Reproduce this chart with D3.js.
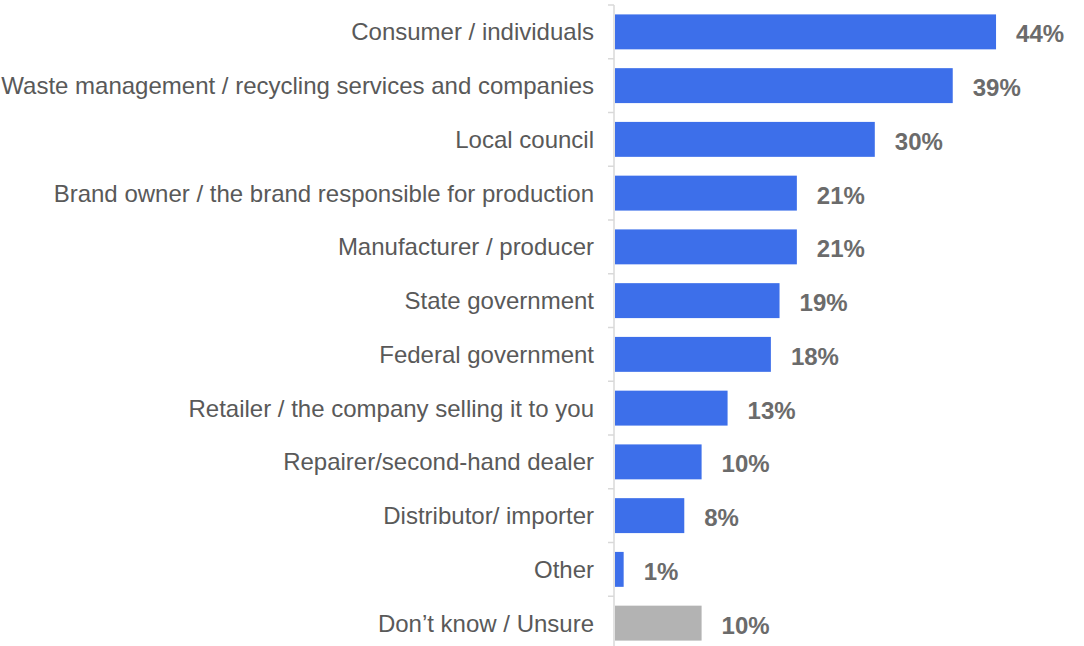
<!DOCTYPE html>
<html>
<head>
<meta charset="utf-8">
<script src="https://cdn.jsdelivr.net/npm/d3@7"></script>
<style>
  html, body { margin: 0; padding: 0; background: #ffffff; }
  svg { display: block; }
</style>
</head>
<body>
<svg id="chart" width="1084" height="646"></svg>
<script>
// Who is responsible — share of respondents (%)
const categories = [
  "Consumer / individuals",
  "Waste management / recycling services and companies",
  "Local council",
  "Brand owner / the brand responsible for production",
  "Manufacturer / producer",
  "State government",
  "Federal government",
  "Retailer / the company selling it to you",
  "Repairer/second-hand dealer",
  "Distributor/ importer",
  "Other",
  "Don\u2019t know / Unsure"
];
const values = [44, 39, 30, 21, 21, 19, 18, 13, 10, 8, 1, 10];
const valueLabels = ["44%", "39%", "30%", "21%", "21%", "19%", "18%", "13%", "10%", "8%", "1%", "10%"];
const neutralCategories = ["Don\u2019t know / Unsure"];

const svg = d3.select("#chart");
const W = 1084, H = 646;

const axisX = 614;
const x = d3.scaleLinear().domain([0, 50]).range([615, 1048]);
const y = d3.scaleBand()
  .domain(categories)
  .range([5, 650])
  .paddingInner(0.35)
  .paddingOuter(0.175);

const step = y.step();

// vertical axis line with tick marks at band boundaries
const g = svg.append("g");
g.append("line")
  .attr("x1", axisX).attr("x2", axisX)
  .attr("y1", 5).attr("y2", H)
  .attr("stroke", "#d9d9d9").attr("stroke-width", 1.5);

g.selectAll("line.tick")
  .data(categories)
  .join("line")
  .attr("class", "tick")
  .attr("x1", axisX - 6).attr("x2", axisX)
  .attr("y1", d => y(d) - step * y.paddingInner() / 2)
  .attr("y2", d => y(d) - step * y.paddingInner() / 2)
  .attr("stroke", "#d9d9d9").attr("stroke-width", 1.5);

// bars
svg.selectAll("rect.bar")
  .data(categories)
  .join("rect")
  .attr("class", "bar")
  .attr("x", x(0))
  .attr("y", d => y(d))
  .attr("width", (d, i) => x(values[i]) - x(0))
  .attr("height", y.bandwidth())
  .attr("fill", d => neutralCategories.includes(d) ? "#b3b3b3" : "#3d6fea");

// category labels
svg.selectAll("text.cat")
  .data(categories)
  .join("text")
  .attr("class", "cat")
  .attr("x", 594)
  .attr("y", d => y(d) + y.bandwidth() / 2)
  .attr("dy", "0.35em")
  .attr("text-anchor", "end")
  .attr("font-family", "'Liberation Sans', Arial, sans-serif")
  .attr("font-size", 24)
  .attr("fill", "#595959")
  .text(d => d);

// value labels
svg.selectAll("text.val")
  .data(categories)
  .join("text")
  .attr("class", "val")
  .attr("x", (d, i) => x(values[i]) + 20)
  .attr("y", d => y(d) + y.bandwidth() / 2 + 2)
  .attr("dy", "0.35em")
  .attr("font-family", "'Liberation Sans', Arial, sans-serif")
  .attr("font-size", 24)
  .attr("font-weight", "bold")
  .attr("fill", "#6b6b6b")
  .text((d, i) => valueLabels[i]);
</script>
</body>
</html>
